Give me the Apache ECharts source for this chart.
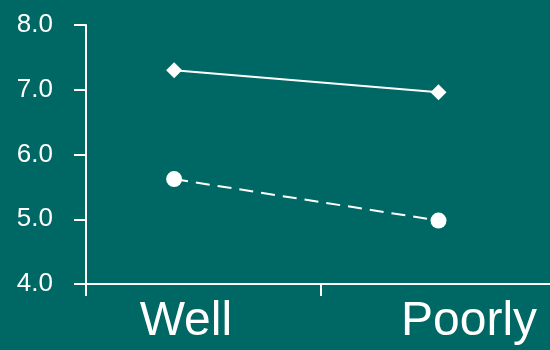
<!DOCTYPE html>
<html>
<head>
<meta charset="utf-8">
<script src="https://cdn.jsdelivr.net/npm/echarts@6/dist/echarts.min.js"></script>
<style>
html,body{margin:0;padding:0;background:#006864;}
#c{width:550px;height:350px;}
</style>
</head>
<body>
<div id="c"></div>
<script>
var categories = ['Well', 'Poorly'];
var categoryX = [0.375, 1.5];
var labelX = [0.425, 1.63];
var seriesDiamond = [7.3, 6.96];
var seriesCircle = [5.62, 4.98];
var yTicks = [4, 5, 6, 7, 8];

function pairs(vals) { return vals.map(function (v, i) { return [categoryX[i], v]; }); }

var chart = echarts.init(document.getElementById('c'), null, {renderer: 'canvas'});
chart.setOption({
  backgroundColor: '#006864',
  animation: false,
  grid: {left: 86, top: 25, height: 259, width: 470, containLabel: false, outerBoundsMode: 'none'},
  xAxis: {
    type: 'value', min: 0, max: 2, interval: 1,
    axisLine: {show: true, lineStyle: {color: '#ffffff', width: 2}},
    axisTick: {show: true, length: 12, lineStyle: {color: '#ffffff', width: 2}},
    splitLine: {show: false},
    axisLabel: {
      show: true, customValues: labelX, margin: 14,
      color: '#ffffff', fontSize: 48, fontFamily: 'Liberation Sans, Arial, sans-serif',
      formatter: function (v) {
        var i = labelX.indexOf(v);
        return i >= 0 ? categories[i] : '';
      }
    }
  },
  yAxis: {
    type: 'value', min: yTicks[0], max: yTicks[yTicks.length - 1], interval: 1,
    axisLine: {show: true, lineStyle: {color: '#ffffff', width: 2}},
    axisTick: {show: true, length: 12, lineStyle: {color: '#ffffff', width: 2}},
    splitLine: {show: false},
    axisLabel: {
      color: '#ffffff', fontSize: 26, margin: 33, padding: [0, 0, 11, 0],
      fontFamily: 'Liberation Sans, Arial, sans-serif',
      formatter: function (v) { return v.toFixed(1); }
    }
  },
  series: [
    {
      type: 'line', data: pairs(seriesDiamond),
      symbol: 'diamond', symbolSize: 16,
      lineStyle: {color: '#ffffff', width: 2, type: 'solid'},
      itemStyle: {color: '#ffffff'}
    },
    {
      type: 'line', data: pairs(seriesCircle),
      symbol: 'circle', symbolSize: 16,
      lineStyle: {color: '#ffffff', width: 2, type: [14, 8]},
      itemStyle: {color: '#ffffff'}
    }
  ]
});
</script>
</body>
</html>
